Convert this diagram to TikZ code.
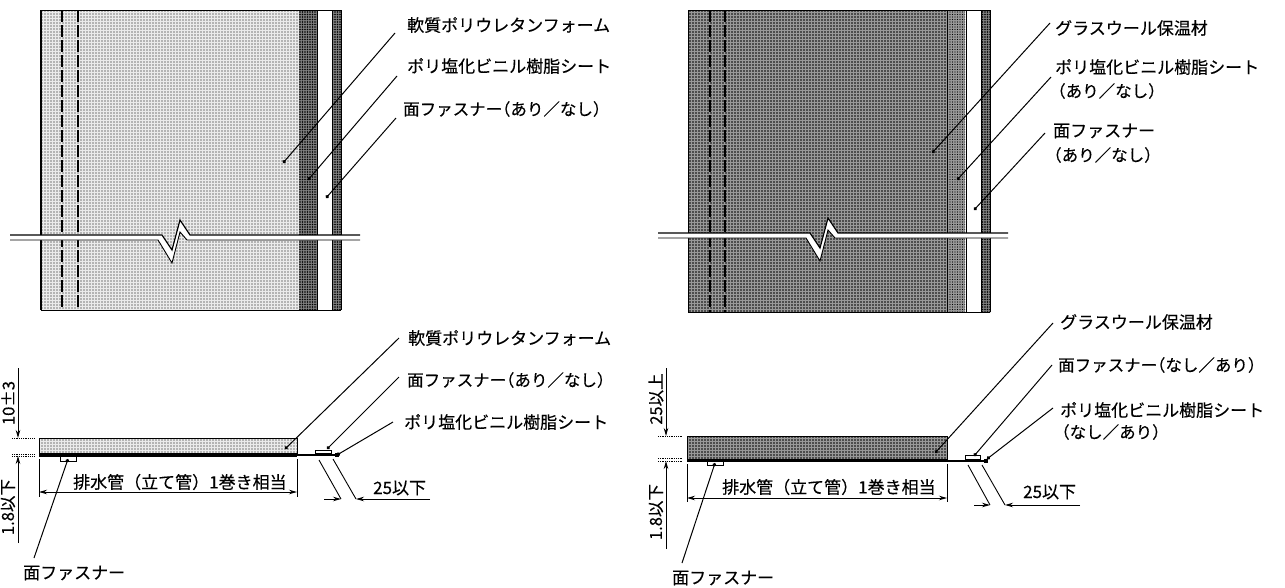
\documentclass[tikz,border=0pt]{standalone}
\usepackage{fontspec}
\setmainfont{Noto Sans CJK JP}[FakeBold=0.25]
\usetikzlibrary{arrows.meta,patterns.meta}
\newcommand{\lpar}{\hspace{-.5em}（}
\tikzset{
 lbl/.style={anchor=west,inner sep=0pt,font=\fontsize{17}{20}\selectfont},
 lblsm/.style={anchor=west,inner sep=0pt,font=\fontsize{16.5}{20}\selectfont},
 dimv/.style={anchor=center,inner sep=0pt,rotate=90,font=\fontsize{16.5}{20}\selectfont},
 leader/.style={line width=1pt,-{Circle[length=3.6pt]}},
 dimarrow/.style={line width=.9pt,-{Stealth[length=8pt,width=4.5pt]}},
 bothdim/.style={line width=.9pt,{Stealth[length=8pt,width=4.5pt]}-{Stealth[length=8pt,width=4.5pt]}},
 ext/.style={line width=.7pt},
 slant/.style={line width=.9pt},
 extdot/.style={line width=.8pt,densely dotted},
 seam/.style={line width=1.6pt,dash pattern=on 12pt off 3pt},
 lightfill/.style={fill=black!8,postaction={pattern={Dots[radius=.6pt,distance=3pt]},pattern color=black}},
 darkfill/.style={fill=black!40,postaction={pattern={Dots[radius=.95pt,distance=3pt]},pattern color=black}},
 bandfill/.style={fill=black!50,postaction={pattern={Dots[radius=.8pt,distance=2.5pt]},pattern color=black}},
 bandfilltwo/.style={fill=black!40,postaction={pattern={Dots[radius=.7pt,distance=2.5pt]},pattern color=black}},
 fastener/.style={draw=black,line width=.7pt,fill=white},
 sheet/.style={fill=black,draw=none},
}
\newcommand{\breakband}[2]{%
 \begin{scope}[xshift=#1pt,yshift=#2pt]
  \fill[white] (10,235)--(162,235)--(172,250)--(180,220)--(190,235)--(360,235)--(360,240)--(187,240)--(180,232)--(172,263)--(158,240)--(10,240)--cycle;
  \draw[line width=1.2pt,line join=miter] (10,235)--(162,235)--(172,250)--(180,220)--(190,235)--(360,235);
  \draw[line width=.9pt,line join=miter] (10,240)--(158,240)--(172,263)--(180,232)--(187,240)--(360,240);
 \end{scope}}
\begin{document}
\begin{tikzpicture}[x=1pt,y=-1pt]
\useasboundingbox (0,0) rectangle (1285,587);
% ---------- left plan
\path[lightfill] (41,10) rectangle (299,310);
\path[bandfill] (299,10) rectangle (317,310);
\path[bandfill] (332,10) rectangle (341,310);
\draw[line width=.8pt] (41,10)--(341,10) (41,310)--(341,310);
\draw[line width=1.3pt] (41,10)--(41,310);
\draw[line width=1pt] (341,10)--(341,310) (332,10)--(332,310) (317,10)--(317,310);
\draw[seam] (62,10)--(62,310);
\draw[seam] (78,10)--(78,310);
\breakband{0}{0}
% ---------- right plan
\path[darkfill] (688,10) rectangle (947,312);
\path[bandfilltwo] (947,10) rectangle (965,312);
\path[bandfill] (981,10) rectangle (990,312);
\draw[line width=.8pt] (688,10)--(990,10) (688,312)--(990,312);
\draw[line width=1pt] (688,10)--(688,312) (990,10)--(990,312) (981,10)--(981,312) (966,10)--(966,312) (947,10)--(947,312);
\draw[seam] (710,10)--(710,312);
\draw[seam] (725,10)--(725,312);
\breakband{648}{2}
% ---------- labels top
\node[lbl] (tla) at (407,25) {軟質ポリウレタンフォーム};
\node[lbl] (tlb) at (407,66) {ポリ塩化ビニル樹脂シート};
\node[lblsm] (tlc) at (403,109) {面ファスナー\lpar あり／なし）};
\node[lbl] (tra) at (1055,28) {グラスウール保温材};
\node[lbl] (trb) at (1055,67) {ポリ塩化ビニル樹脂シート};
\node[lblsm] (trbb) at (1049,91) {（あり／なし）};
\node[lbl] (trc) at (1053,131) {面ファスナー};
\node[lblsm] (trcc) at (1045,155) {（あり／なし）};
\coordinate (tla0) at (395,33); \coordinate (tla1) at (283,163);
\coordinate (tlb0) at (397,76); \coordinate (tlb1) at (308,180);
\coordinate (tlc0) at (396,118); \coordinate (tlc1) at (326,198);
\coordinate (tra0) at (1050,23); \coordinate (tra1) at (932,153);
\coordinate (trb0) at (1051,77); \coordinate (trb1) at (957,180);
\coordinate (trc0) at (1045,133); \coordinate (trc1) at (974,210);
\foreach \n in {tla,tlb,tlc,tra,trb,trc}{\draw[leader] (\n0)--(\n1);}
% ---------- left section
\path[lightfill] (39,438) rectangle (297,453);
\draw[line width=.6pt] (39,438) rectangle (297,453);
\path[sheet] (39,453) rectangle (297,456.5);
\path[sheet] (297,454) rectangle (339,456);
\path[sheet] (335,453) rectangle (339,457);
\node[fastener,minimum width=16pt,minimum height=4.5pt,inner sep=0pt] (lfa) at (68,459) {};
\node[fastener,minimum width=16pt,minimum height=3.5pt,inner sep=0pt] (lfb) at (323.5,452) {};
% left dims
\coordinate (lv0) at (18,368); \coordinate (lv1) at (18,438);
\coordinate (lv2) at (18,543); \coordinate (lv3) at (18,456);
\draw[dimarrow] (lv0)--(lv1);
\draw[dimarrow] (lv2)--(lv3);
\coordinate (lea) at (12,438); \coordinate (leb) at (35,438);
\coordinate (lec) at (12,454); \coordinate (led) at (35,454);
\coordinate (lee) at (12,456.5); \coordinate (lef) at (35,456.5);
\draw[extdot] (lea)--(leb); \draw[extdot] (lec)--(led); \draw[extdot] (lee)--(lef);
\node[dimv] (lt10) at (8,403) {10±3};
\node[dimv] (lt18) at (8,507) {1.8以下};
\coordinate (lh0) at (39,492); \coordinate (lh1) at (297,492);
\draw[bothdim] (lh0)--(lh1);
\coordinate (lx0) at (39,459); \coordinate (lx1) at (39,497);
\coordinate (lx2) at (297,459); \coordinate (lx3) at (297,497);
\draw[ext] (lx0)--(lx1); \draw[ext] (lx2)--(lx3);
\node[lbl] (lpipe) at (73,482) {排水管（立て管）1巻き相当};
\coordinate (ls0) at (319,460); \coordinate (ls1) at (341,499);
\coordinate (ls2) at (333,459); \coordinate (ls3) at (356,499);
\draw[slant] (ls0)--(ls1); \draw[slant] (ls2)--(ls3);
\coordinate (la0) at (324,499); \coordinate (la1) at (430,499);
\draw[dimarrow] (la0)--(ls1);
\draw[dimarrow] (la1)--(ls3);
\node[lbl] (l25) at (373,488) {25以下};
\node[lbl] (lsa) at (408,338) {軟質ポリウレタンフォーム};
\node[lblsm] (lsb) at (407,380) {面ファスナー\lpar あり／なし）};
\node[lbl] (lsc) at (404,422) {ポリ塩化ビニル樹脂シート};
\node[lbl] (lsd) at (23,573) {面ファスナー};
\coordinate (lsa0) at (399,338); \coordinate (lsa1) at (285,449);
\coordinate (lsb0) at (399,377); \coordinate (lsb1) at (327,449);
\coordinate (lsc0) at (393,422); \coordinate (lsc1) at (337,455);
\coordinate (lsd0) at (34,558); \coordinate (lsd1) at (68,459);
\foreach \n in {lsa,lsb,lsc,lsd}{\draw[leader] (\n0)--(\n1);}
% ---------- right section
\path[darkfill] (687,436) rectangle (947,459);
\draw[line width=.6pt] (687,436) rectangle (947,459);
\path[sheet] (687,459) rectangle (947,462);
\path[sheet] (947,459.5) rectangle (988,461.5);
\path[sheet] (984,458.5) rectangle (988,462.5);
\node[fastener,minimum width=16pt,minimum height=4pt,inner sep=0pt] (rfa) at (715,463.5) {};
\node[fastener,minimum width=15pt,minimum height=4pt,inner sep=0pt] (rfb) at (972.5,457.5) {};
\coordinate (rv0) at (666,368); \coordinate (rv1) at (666,436);
\coordinate (rv2) at (666,549); \coordinate (rv3) at (666,461);
\draw[dimarrow] (rv0)--(rv1);
\draw[dimarrow] (rv2)--(rv3);
\coordinate (rea) at (658,436); \coordinate (reb) at (683,436);
\coordinate (rec) at (658,458); \coordinate (red) at (683,458);
\coordinate (ree) at (658,461); \coordinate (ref) at (683,461);
\draw[extdot] (rea)--(reb); \draw[extdot] (rec)--(red); \draw[extdot] (ree)--(ref);
\node[dimv] (rt25) at (656,399) {25以上};
\node[dimv] (rt18) at (656,512) {1.8以下};
\coordinate (rh0) at (687,498); \coordinate (rh1) at (947,498);
\draw[bothdim] (rh0)--(rh1);
\coordinate (rx0) at (687,464); \coordinate (rx1) at (687,502);
\coordinate (rx2) at (947,464); \coordinate (rx3) at (947,502);
\draw[ext] (rx0)--(rx1); \draw[ext] (rx2)--(rx3);
\node[lbl] (rpipe) at (722,487) {排水管（立て管）1巻き相当};
\coordinate (rs0) at (968,465); \coordinate (rs1) at (990,505);
\coordinate (rs2) at (982,465); \coordinate (rs3) at (1005,505);
\draw[slant] (rs0)--(rs1); \draw[slant] (rs2)--(rs3);
\coordinate (ra0) at (974,505); \coordinate (ra1) at (1080,505);
\draw[dimarrow] (ra0)--(rs1);
\draw[dimarrow] (ra1)--(rs3);
\node[lbl] (r25) at (1023,492) {25以下};
\node[lbl] (rsa) at (1060,322) {グラスウール保温材};
\node[lblsm] (rsb) at (1058,365) {面ファスナー\lpar なし／あり）};
\node[lbl] (rsc) at (1060,410) {ポリ塩化ビニル樹脂シート};
\node[lblsm] (rscc) at (1053,432) {（なし／あり）};
\node[lbl] (rsd) at (672,578) {面ファスナー};
\coordinate (rsa0) at (1053,323); \coordinate (rsa1) at (935,453);
\coordinate (rsb0) at (1052,365); \coordinate (rsb1) at (974,456);
\coordinate (rsc0) at (1053,408); \coordinate (rsc1) at (987,459);
\coordinate (rsd0) at (682,563); \coordinate (rsd1) at (715,463);
\foreach \n in {rsa,rsb,rsc,rsd}{\draw[leader] (\n0)--(\n1);}
\end{tikzpicture}
\end{document}
